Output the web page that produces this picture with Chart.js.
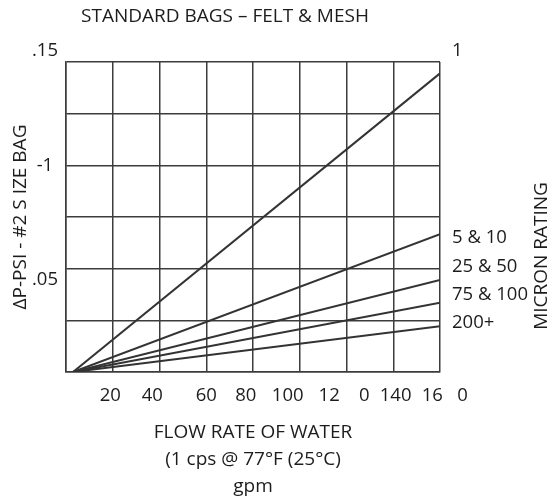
<!DOCTYPE html>
<html>
<head>
<meta charset="utf-8">
<script src="https://cdn.jsdelivr.net/npm/chart.js@4/dist/chart.umd.min.js"></script>
<style>
  html, body { margin: 0; padding: 0; background: #fff; }
  #wrap { width: 551px; height: 496px; }
</style>
</head>
<body>
<div id="wrap"><canvas id="bagChart"></canvas></div>
<script>
// flow rate (gpm) at the two ends of each line
var flowGpm = [3, 160];
// pressure drop (psi) per micron rating
var dpMicron1 = [0, 0.1445];
var dpMicron5 = [0, 0.0667];
var dpMicron25 = [0, 0.0445];
var dpMicron75 = [0, 0.0335];
var dpMicron200 = [0, 0.0222];

// tick labels as printed on the sheet
var xTickValues = [20, 40, 60, 80, 100, 120, 140, 160];
var xTickText = ['20 ', '40   ', '60', '80   ', '100     ', '12    0 ', ' 140', '  16   0'];
var yTickText = {2: ['', '.05'], 4: '-1 ', 6: ['.15', '']};
var ratingValues = [0.15, 0.0648, 0.0508, 0.0372, 0.0237];
var ratingText = [['1', ''], '5 & 10', '25 & 50', '75 & 100', '200+'];

var chartTitle = 'STANDARD BAGS \u2013 FELT & MESH';
var sideTitle = 'MICRON RATING';

var ink = '#1e1b1c';
var gridInk = '#3c3c3c';
var fontFam = '"Open Sans", sans-serif';

function toPoints(ys) {
	return ys.map(function (y, i) { return {x: flowGpm[i], y: y}; });
}

function lineSet(ys) {
	return {
		data: toPoints(ys),
		borderColor: '#333',
		borderWidth: 2,
		pointRadius: 0,
		fill: false
	};
}

// title on top and the rotated rating caption on the right
var extraText = {
	id: 'extraText',
	afterDraw: function (chart) {
		var c = chart.ctx;
		c.save();
		c.fillStyle = ink;
		c.font = '19px ' + fontFam;
		c.textAlign = 'center';
		c.textBaseline = 'middle';
		c.fillText(chartTitle, 225, 17);
		c.translate(542, 256);
		c.rotate(-Math.PI / 2);
		c.fillText(sideTitle, 0, 0);
		c.restore();
	}
};

Chart.defaults.font.family = fontFam;
Chart.defaults.color = ink;

var ctx = document.getElementById('bagChart').getContext('2d');
var chart = new Chart(ctx, {
	type: 'line',
	data: {
		datasets: [
			lineSet(dpMicron1),
			lineSet(dpMicron5),
			lineSet(dpMicron25),
			lineSet(dpMicron75),
			lineSet(dpMicron200)
		]
	},
	plugins: [extraText],
	options: {
		responsive: true,
		maintainAspectRatio: false,
		animation: false,
		layout: { padding: { top: 62 } },
		plugins: {
			legend: { display: false },
			tooltip: { enabled: false }
		},
		scales: {
			x: {
				type: 'linear',
				min: 0,
				max: 160,
				ticks: {
					stepSize: 20,
					padding: 13,
					autoSkip: false,
					maxRotation: 0,
					minRotation: 0,
					font: { size: 18.5 },
					callback: function (v) {
						var i = xTickValues.indexOf(v);
						return i < 0 ? '' : xTickText[i];
					}
				},
				grid: { color: gridInk, lineWidth: 1.5, drawTicks: false },
				border: { color: gridInk, width: 1.5 },
				title: {
					display: true,
					text: ['FLOW RATE OF WATER', '(1 cps @ 77\u00b0F (25\u00b0C)', 'gpm'],
					font: { size: 19, lineHeight: 1.42 },
					padding: { top: 0, bottom: -4 }
				},
				afterFit: function (s) { s.height = 124; }
			},
			y: {
				min: 0,
				max: 0.15,
				ticks: {
					stepSize: 0.025,
					padding: 8,
					font: { size: 18.5 },
					callback: function (v, i) { return yTickText[i] || ''; }
				},
				grid: { color: gridInk, lineWidth: 1.5, drawTicks: false },
				border: { color: gridInk, width: 1.5 },
				title: {
					display: true,
					text: '\u0394P-PSI - #2 S IZE BAG',
					font: { size: 19 },
					padding: { top: 9 }
				},
				afterFit: function (s) { s.width = 66; }
			},
			y2: {
				position: 'right',
				min: 0,
				max: 0.15,
				afterBuildTicks: function (s) {
					s.ticks = ratingValues.map(function (v) { return {value: v}; });
				},
				ticks: {
					autoSkip: false,
					padding: 12,
					font: { size: 18.5 },
					callback: function (v, i) { return ratingText[i]; }
				},
				grid: { display: false, drawTicks: false },
				border: { display: false },
				afterFit: function (s) { s.width = 111; }
			}
		}
	}
});
</script>
</body>
</html>
